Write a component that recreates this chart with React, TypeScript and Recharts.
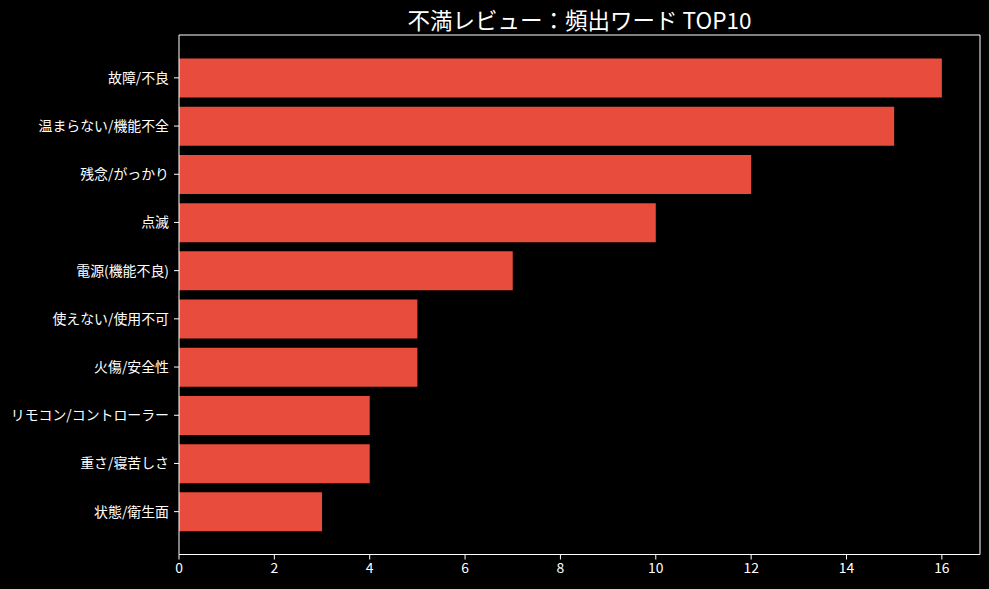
import React from "react";
import { BarChart, Bar, XAxis, YAxis } from "recharts";

const categories = [
  "故障/不良",
  "温まらない/機能不全",
  "残念/がっかり",
  "点滅",
  "電源(機能不良)",
  "使えない/使用不可",
  "火傷/安全性",
  "リモコン/コントローラー",
  "重さ/寝苦しさ",
  "状態/衛生面",
];
const counts = [16, 15, 12, 10, 7, 5, 5, 4, 4, 3];
const xTicks = [0, 2, 4, 6, 8, 10, 12, 14, 16];
const title = "不満レビュー：頻出ワード TOP10";

const data = categories.map((name, i) => ({ name, count: counts[i] }));

const FONT = "'Noto Sans CJK JP', 'Noto Sans', sans-serif";
const tickStyle = { fill: "#ffffff", fontSize: 13.9, fontFamily: FONT };

export default function App() {
  return (
    <div
      style={{
        position: "fixed",
        left: 0,
        top: 0,
        width: 989,
        height: 589,
        background: "#000000",
      }}
    >
      <div
        style={{
          position: "absolute",
          left: 179,
          width: 801,
          top: 4,
          height: 30,
          lineHeight: "30px",
          textAlign: "center",
          color: "#ffffff",
          fontFamily: FONT,
          fontSize: 22.5,
        }}
      >
        {title}
      </div>
      <BarChart
        width={989}
        height={589}
        data={data}
        layout="vertical"
        margin={{ top: 35, right: 9, bottom: 0, left: 0 }}
        barCategoryGap="10%"
      >
        <XAxis
          type="number"
          dataKey="count"
          domain={[0, 16.8]}
          ticks={xTicks}
          allowDataOverflow
          height={34.5}
          tickSize={5}
          tickMargin={4}
          stroke="#ffffff"
          axisLine={{ stroke: "#ffffff" }}
          tickLine={{ stroke: "#ffffff" }}
          tick={tickStyle}
        />
        <YAxis
          type="category"
          dataKey="name"
          width={179}
          padding={{ top: 18.75, bottom: 18.75 }}
          tickSize={5}
          tickMargin={5}
          interval={0}
          axisLine={{ stroke: "#ffffff" }}
          tickLine={{ stroke: "#ffffff" }}
          tick={tickStyle}
        />
        <Bar dataKey="count" fill="#e74c3c" isAnimationActive={false} />
      </BarChart>
      <svg
        width={989}
        height={589}
        style={{ position: "absolute", left: 0, top: 0, pointerEvents: "none" }}
      >
        <line x1={179} y1={35} x2={980} y2={35} stroke="#ffffff" strokeWidth={1} />
        <line x1={980} y1={35} x2={980} y2={554.5} stroke="#ffffff" strokeWidth={1} />
      </svg>
    </div>
  );
}
